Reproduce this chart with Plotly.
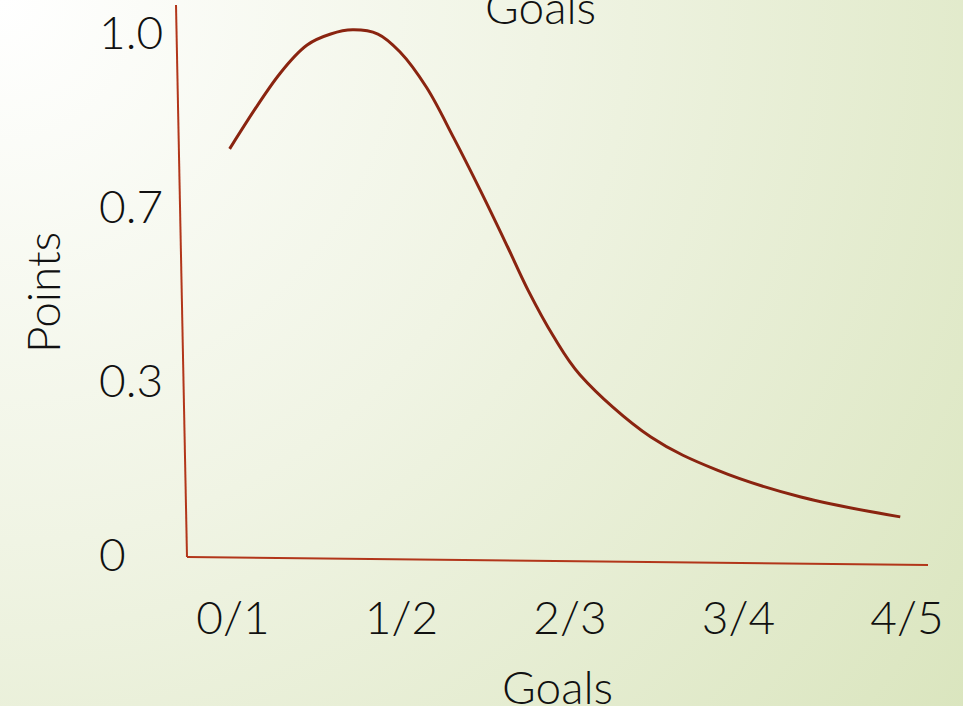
import base64
import plotly.graph_objects as go

# Points curve: goals (category index) vs points
goals_x = [-0.02, 0.28, 0.44, 0.58, 0.71, 0.86, 0.99, 1.15, 1.31, 1.47,
           1.63, 1.75, 1.90, 2.06, 2.48, 2.87, 3.37, 3.96]
points_y = [0.778, 0.923, 0.977, 0.998, 1.006, 0.998, 0.964, 0.895, 0.799,
            0.697, 0.590, 0.508, 0.420, 0.345, 0.226, 0.163, 0.111, 0.073]

x_tick_vals = [0, 1, 2, 3, 4]
x_tick_text = ["0/1", "1/2", "2/3", "3/4", "4/5"]
y_tick_vals = [0, 1 / 3, 2 / 3, 1]
y_tick_text = ["0", "0.3", "0.7", "1.0"]

W, H = 963, 706
ML, MR, MT, MB = 0, 20, 0, 119
PW, PH = W - ML - MR, H - MT - MB

FONT = "Lato"
TEXT = "#111111"
AXIS_RED = "#B2361A"
CURVE_RED = "#8A2410"


def px(xp):
    return (xp - ML) / PW


def py(yp):
    return 1 - (yp - MT) / PH


# soft white-to-green background
svg = f"""<svg xmlns='http://www.w3.org/2000/svg' width='{W}' height='{H}'>
<defs><radialGradient id='g' cx='0' cy='0' r='{int(W*1.25)}' gradientUnits='userSpaceOnUse'>
<stop offset='0' stop-color='#FFFFFF'/><stop offset='0.45' stop-color='#F0F4E4'/>
<stop offset='1' stop-color='#DAE5BE'/></radialGradient></defs>
<rect width='{W}' height='{H}' fill='url(#g)'/></svg>"""
bg_src = "data:image/svg+xml;base64," + base64.b64encode(svg.encode()).decode()

fig = go.Figure()
fig.add_trace(go.Scatter(
    x=goals_x, y=points_y, mode="lines",
    line=dict(color=CURVE_RED, width=3, shape="spline", smoothing=1.0),
    hoverinfo="skip", showlegend=False,
))

tick_font = dict(family=FONT, size=46, color=TEXT, weight=300)
x0_px = 180
fig.update_layout(
    width=W, height=H,
    margin=dict(l=ML, r=MR, t=MT, b=MB),
    paper_bgcolor="#EEF2E0",
    plot_bgcolor="rgba(0,0,0,0)",
    font=tick_font,
    xaxis=dict(
        domain=[px(x0_px), 1],
        range=[(x0_px - 233) / 168.5, (W - MR - 233) / 168.5],
        tickvals=x_tick_vals, ticktext=x_tick_text,
        showgrid=False, zeroline=False, showline=False, ticks="",
        tickfont=tick_font,
    ),
    yaxis=dict(
        anchor="free", position=px(95), side="left",
        ticklabelposition="inside",
        range=[(555 - (H - MB)) / 522, 555 / 522],
        tickvals=y_tick_vals, ticktext=y_tick_text,
        showgrid=False, zeroline=False, showline=False, ticks="",
        tickfont=tick_font,
    ),
    images=[dict(source=bg_src, xref="paper", yref="paper", x=px(0), y=py(0),
                 sizex=W / PW, sizey=H / PH, sizing="stretch",
                 xanchor="left", yanchor="top", layer="below")],
    shapes=[
        dict(type="line", xref="paper", yref="paper",
             x0=px(176), y0=py(5), x1=px(187), y1=py(557),
             line=dict(color=AXIS_RED, width=2)),
        dict(type="line", xref="paper", yref="paper",
             x0=px(187), y0=py(557), x1=px(928), y1=py(565),
             line=dict(color=AXIS_RED, width=2)),
    ],
    annotations=[
        dict(text="Goals", xref="paper", yref="paper", x=px(540), y=py(6),
             xanchor="center", yanchor="middle", showarrow=False, font=tick_font),
        dict(text="Goals", xref="paper", yref="paper", x=px(557), y=py(686),
             xanchor="center", yanchor="middle", showarrow=False, font=tick_font),
        dict(text="Points", xref="paper", yref="paper", x=px(42), y=py(293),
             xanchor="center", yanchor="middle", textangle=-90, showarrow=False,
             font=tick_font),
    ],
)

fig.write_html("out.html")
